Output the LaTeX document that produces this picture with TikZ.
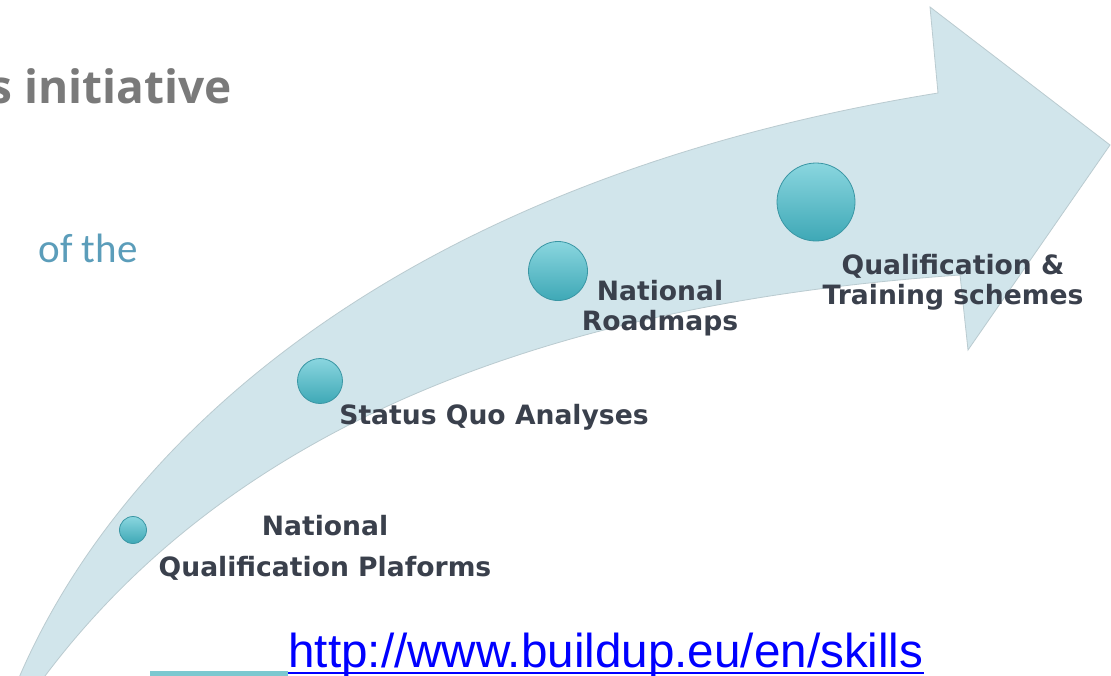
\documentclass[tikz,border=0pt]{standalone}
\usepackage{fontspec}
\usetikzlibrary{calc}
\setmainfont{DejaVu Sans}
\newfontfamily\verdf{DejaVu Sans}
\newfontfamily\opensf{Open Sans}
\newfontfamily\carlf{Carlito}
\newfontfamily\arialf{Liberation Sans}
\definecolor{band}{HTML}{D1E5EB}
\definecolor{bandedge}{HTML}{BACBD0}
\definecolor{lblc}{HTML}{3A404C}
\definecolor{graytitle}{HTML}{7A7A7A}
\definecolor{ofc}{HTML}{5B9DBA}
\definecolor{urlblue}{HTML}{0000FF}
\definecolor{tealbar}{HTML}{7CC8D0}
\definecolor{balltop}{HTML}{8AD6DF}
\definecolor{ballbot}{HTML}{3EA8B6}
\definecolor{balledge}{HTML}{3A96A4}
\begin{document}
\begin{tikzpicture}[x=0.5pt,y=-0.5pt,
  ballnode/.style={circle, draw=balledge, line width=0.4pt, top color=balltop, bottom color=ballbot, inner sep=0pt},
  lbl/.style={font=\verdf\bfseries\fontsize{13.3}{15}\selectfont, text=lblc, align=center, inner sep=0pt}]
\useasboundingbox (0,0) rectangle (1111,675);
\clip (0,0) rectangle (1111,675);
\fill[white] (0,0) rectangle (1111,675);
% curved arrow
\path[fill=band, draw=bandedge, line width=0.4pt]
  (18,680) .. controls (120,440) and (400,180) .. (938,93)
  -- (930,7) -- (1110,145) -- (968,350) -- (960,275)
  .. controls (600,300) and (250,400) .. (42,680) -- cycle;
% balls
\node[ballnode, minimum size=13.5pt] (b1) at (133,530) {};
\node[ballnode, minimum size=22.5pt] (b2) at (320,381) {};
\node[ballnode, minimum size=29.5pt] (b3) at (558,271) {};
\node[ballnode, minimum size=39pt] (b4) at (816,202) {};
% labels
\node[lbl] (l4) at (953,282) {Qualification \&\\Training schemes};
\node[lbl] (l3) at (660,308) {National\\Roadmaps};
\node[lbl] (l2) at (494,417) {Status Quo Analyses};
\node[lbl] (l1) at (325,548) {National\\[5.5pt]Qualification Plaforms};
% title fragments
\node[anchor=base east, inner sep=0pt, font=\opensf\bfseries\fontsize{23}{28}\selectfont, text=graytitle] (t1) at (232,103) {s initiative};
\node[anchor=base west, inner sep=0pt, font=\carlf\fontsize{20.5}{24}\selectfont, text=ofc] (t2) at (38,262) {of the};
% url
\fill[tealbar] (150,671) rectangle (288,677);
\node[anchor=base west, inner sep=0pt, font=\arialf\fontsize{23.8}{28}\selectfont, text=urlblue] (url) at (288,667) {http://www.buildup.eu/en/skills};
\draw[urlblue, line width=1pt] ($(url.base west)+(0,6)$) -- ($(url.base east)+(0,6)$);
\end{tikzpicture}
\end{document}
